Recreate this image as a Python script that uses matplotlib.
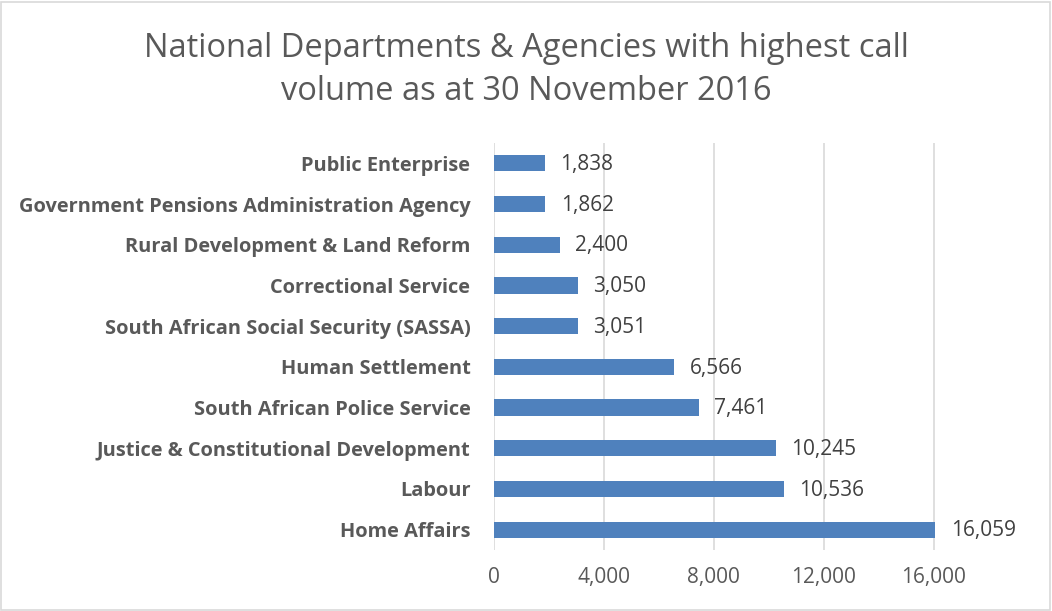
import matplotlib
matplotlib.use("Agg")
import matplotlib.pyplot as plt
from matplotlib.patches import Rectangle

categories = [
    "Home Affairs",
    "Labour",
    "Justice & Constitutional Development",
    "South African Police Service",
    "Human Settlement",
    "South African Social Security (SASSA)",
    "Correctional Service",
    "Rural Development & Land Reform",
    "Government Pensions Administration Agency",
    "Public Enterprise",
]
values = [16059, 10536, 10245, 7461, 6566, 3051, 3050, 2400, 1862, 1838]
xticks = [0, 4000, 8000, 12000, 16000]
title = "National Departments & Agencies with highest call\nvolume as at 30 November 2016"

plt.rcParams['font.family'] = ['Open Sans', 'DejaVu Sans']

W, H = 1052, 611
fig = plt.figure(figsize=(W / 100, H / 100), dpi=100)
ax = fig.add_axes([494 / W, 1 - 550 / H, 514 / W, 407 / H])

bar_color = "#4F81BD"
text_color = "#404040"
grid_color = "#D9D9D9"

pos = list(range(len(categories)))
ax.barh(pos, values, height=0.4, color=bar_color, zorder=3)
ax.set_ylim(-0.5, len(categories) - 0.5)
ax.set_xlim(0, 18700)

ax.set_xticks(xticks)
ax.set_xticklabels([f"{v:,}" for v in xticks], fontsize=15, color="#595959")
ax.set_yticks(pos)
ax.set_yticklabels(categories, fontsize=14.4, fontweight="bold", color="#595959")
ax.tick_params(axis="both", length=0)
ax.tick_params(axis="x", pad=12)
ax.tick_params(axis="y", pad=17)
ax.grid(axis="x", color=grid_color, linewidth=1.2, zorder=0)
for s in ax.spines.values():
    s.set_visible(False)

for p, v in zip(pos, values):
    ax.text(v + 560, p - 0.03, f"{v:,}", va="center", ha="left", fontsize=15, color=text_color)

fig.text(0.5, 1 - 70 / H, title, ha="center", va="center", fontsize=23.5,
         color="#595959", linespacing=1.42)

fig.patches.append(Rectangle((1 / W, 1 / H), 1 - 3 / W, 1 - 3 / H, transform=fig.transFigure,
                             fill=False, edgecolor="#D9D9D9", linewidth=1.2))

fig.savefig("out.png", dpi=100)
